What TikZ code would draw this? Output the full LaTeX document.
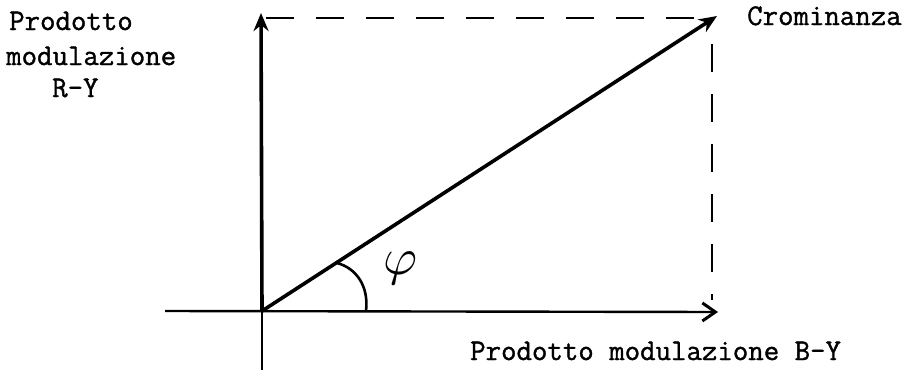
\documentclass[tikz,border=0pt]{standalone}
\usepackage{fontspec}
\usepackage{graphicx}
\newfontfamily\tw[FakeBold=1.2]{Latin Modern Mono}
\usetikzlibrary{arrows.meta}
\begin{document}
\begin{tikzpicture}[x=1pt,y=-1pt,
  lbl/.style={inner sep=0pt,anchor=base west,font=\fontsize{30}{34}\selectfont\tw},
  axis/.style={line width=2.4pt},
  vec/.style={line width=3.6pt,-{Stealth[length=18pt,width=15pt]}},
  guide/.style={line width=2.6pt,dash pattern=on 28pt off 22pt}]
\useasboundingbox (0,0) rectangle (907,375);
\coordinate (O) at (262,311);
\coordinate (T) at (261,13);
\coordinate (L) at (165,311);
\coordinate (R) at (718,312);
\coordinate (B) at (262,370);
\coordinate (C) at (717,16);
\coordinate (CT) at (266,18);
\coordinate (CB) at (712,300);
\coordinate (A1) at (366,311);
\coordinate (A2) at (337,263);
% axes
\draw[axis,-{Straight Barb[length=13pt,width=18pt,line width=3pt]}] (L) -- (R);
\draw[line width=1.6pt] (O) -- (B);
\draw[vec] (O) -- (T);
\draw[vec] (O) -- (C);
% dashed guides
\draw[guide] (CT) -- (698,18);
\draw[guide,dash phase=-12pt] (712,32) -- (CB);
% angle arc
\draw[line width=2.6pt] (A2) .. controls (356,268) and (369,286) .. (A1);
\node[inner sep=0pt] (phi) at (401,268) {\scalebox{5.2}{$\varphi$}};
% labels
\node[lbl] (l1) at (9,30) {Prodotto};
\node[lbl] (l2) at (6,65) {modulazione};
\node[lbl] (l3) at (52,97) {R-Y};
\node[lbl] (cr) at (747,25) {Crominanza};
\node[lbl] (by) at (470,360) {Prodotto modulazione B-Y};
\end{tikzpicture}
\end{document}
